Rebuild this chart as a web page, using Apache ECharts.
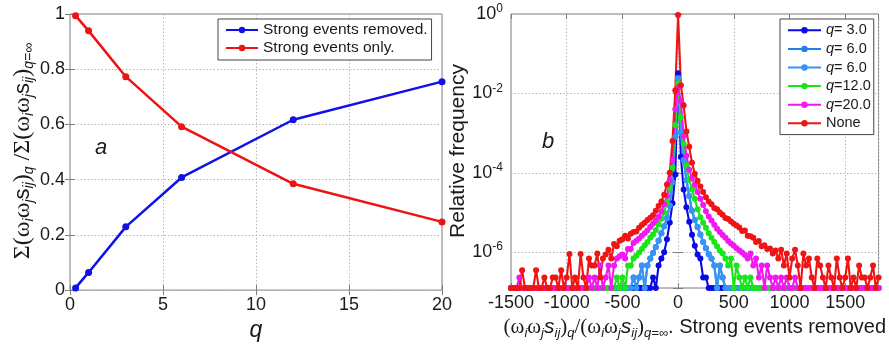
<!DOCTYPE html>
<html><head><meta charset="utf-8">
<script src="https://cdn.jsdelivr.net/npm/echarts@6/dist/echarts.min.js"></script>
<style>html,body{margin:0;padding:0;background:#fff}#c{width:889px;height:347px}</style>
</head><body><div id="c"></div><script>
// ---------- Panel a ----------
const qValues = [0.3, 1, 3, 6, 12, 20];
const removedShare = [0.008, 0.064, 0.229, 0.408, 0.617, 0.755];
const onlyShare = [0.994, 0.939, 0.773, 0.592, 0.385, 0.247];

// ---------- Panel b (relative frequency per bin; 0 = empty bin, drawn on the axis floor) ----------
const bins = [
-1500,-1475,-1450,-1425,-1400,-1375,-1350,-1325,-1300,-1275,
-1250,-1225,-1200,-1175,-1150,-1125,-1100,-1075,-1050,-1025,
-1000,-975,-950,-925,-900,-875,-850,-825,-800,-775,
-750,-725,-700,-675,-650,-625,-600,-575,-550,-525,
-500,-475,-450,-425,-400,-375,-350,-325,-300,-275,
-250,-225,-200,-175,-150,-125,-100,-75,-50,-25,
0,
25,50,75,100,125,150,175,200,225,250,
275,300,325,350,375,400,425,450,475,500,
525,550,575,600,625,650,675,700,725,750,
775,800,825,850,875,900,925,950,975,1000,
1025,1050,1075,1100,1125,1150,1175,1200,1225,1250,
1275,1300,1325,1350,1375,1400,1425,1450,1475,1500,
1525,1550,1575,1600,1625,1650,1675,1700,1725,1750,
1775,1800];

const freqNone = [
0,0,0,0,3.5e-7,0,0,0,0,3.5e-7,
0,0,2.3e-7,0,0,2.3e-7,2.3e-7,0,3.5e-7,0,
2.3e-7,9e-7,0,2.3e-7,0,9e-7,2.3e-7,0,6.9e-7,4.6e-7,
4.6e-7,9.2e-7,2.3e-7,6.9e-7,8.7e-7,1.15e-6,6.9e-7,1.6e-6,1.4e-6,1.95e-6,
2.1e-6,2.6e-6,2.2e-6,2.9e-6,3.2e-6,3.3e-6,4.1e-6,4.8e-6,5.5e-6,6.5e-6,
7.4e-6,8.5e-6,1.1e-5,1.45e-5,1.9e-5,2.8e-5,5.1e-5,1e-4,6.3e-4,1.2e-2,
0.95,
1.6e-2,5e-3,1.1e-3,4.5e-4,1.8e-4,9.5e-5,6.3e-5,4.5e-5,3.3e-5,2.4e-5,
1.9e-5,1.6e-5,1.3e-5,1.2e-5,1e-5,8.7e-6,7.2e-6,6.8e-6,5.9e-6,5.2e-6,
4.7e-6,4.2e-6,3.4e-6,3.5e-6,2.6e-6,2.5e-6,2.3e-6,1.8e-6,1.9e-6,1.4e-6,
1.5e-6,1.2e-6,1.23e-6,9.2e-7,1.1e-6,6.9e-7,1.15e-6,4.6e-7,9.2e-7,2.3e-7,
6.9e-7,1.15e-6,4.6e-7,0,9.2e-7,4.6e-7,6.9e-7,2.3e-7,0,6.9e-7,
4.6e-7,2.3e-7,0,4.6e-7,2.3e-7,0,6.9e-7,2.3e-7,0,2.3e-7,
6.9e-7,0,2.3e-7,0,4.6e-7,2.3e-7,2.3e-7,0,2.3e-7,4.6e-7,
0,2.3e-7];

const freqQ20 = [
0,0,0,2.3e-7,0,0,0,0,0,0,
0,0,0,0,0,0,0,0,0,0,
0,0,0,0,0,0,0,0,2.3e-7,0,
2.3e-7,0,4.6e-7,0,2.3e-7,4.6e-7,0,4.6e-7,6.9e-7,7.9e-7,
8.7e-7,6.9e-7,1.2e-6,1.2e-6,1.7e-6,1.95e-6,2.2e-6,2.6e-6,3e-6,3.5e-6,
4.3e-6,5.2e-6,6.3e-6,7.8e-6,1.05e-5,1.6e-5,2.6e-5,6.5e-5,2.1e-4,4e-3,
1.4e-2,
6.3e-3,8.5e-4,2.7e-4,1.2e-4,7.4e-5,5e-5,3.3e-5,2.2e-5,1.55e-5,1.07e-5,
7.9e-6,6.3e-6,4.9e-6,3.9e-6,3.2e-6,2.7e-6,2.3e-6,1.9e-6,1.66e-6,1.45e-6,
1.26e-6,1.1e-6,9.8e-7,8.5e-7,6.9e-7,9.2e-7,4.6e-7,6.9e-7,2.3e-7,4.6e-7,
0,4.6e-7,2.3e-7,0,2.3e-7,0,2.3e-7,0,2.3e-7,0,
0,2.3e-7,0,0,0,0,0,0,0,0,
0,0,0,0,0,0,0,0,0,0,
0,0,0,0,0,0,0,0,0,0,
0,0];

const freqQ12 = [
0,0,0,0,0,0,0,0,0,0,
0,0,0,0,0,0,0,0,0,0,
0,0,0,0,0,0,0,0,0,0,
0,0,0,0,0,0,0,0,2.3e-7,0,
2.3e-7,0,4.6e-7,4.6e-7,6.9e-7,8.1e-7,9.8e-7,1.2e-6,1.5e-6,1.8e-6,
2.3e-6,2.8e-6,3.6e-6,5e-6,6.9e-6,1e-5,1.8e-5,4.2e-5,1.35e-4,1.6e-3,
1.8e-2,
2.5e-3,5.4e-4,1.5e-4,6.6e-5,3.8e-5,2.2e-5,1.2e-5,7.6e-6,5.5e-6,4.1e-6,
3e-6,2.3e-6,1.8e-6,1.4e-6,1.1e-6,9.3e-7,6.9e-7,4.6e-7,6.9e-7,0,
4.6e-7,2.3e-7,0,2.3e-7,0,2.3e-7,0,0,0,0,
0,0,0,0,0,0,0,0,0,0,
0,0,0,0,0,0,0,0,0,0,
0,0,0,0,0,0,0,0,0,0,
0,0,0,0,0,0,0,0,0,0,
0,0];

const freqQ6 = [
0,0,0,0,0,0,0,0,0,0,
0,0,0,0,0,0,0,0,0,0,
0,0,0,0,0,0,0,0,0,0,
0,0,0,0,0,0,0,0,0,0,
0,0,0,0,2.3e-7,0,2.3e-7,4.6e-7,0,4.6e-7,
6.9e-7,9.5e-7,1.35e-6,1.95e-6,3e-6,4.5e-6,7.1e-6,1.5e-5,5.8e-5,8e-4,
2.4e-2,
1e-3,2.1e-4,6.5e-5,2.6e-5,1.1e-5,6.5e-6,4.3e-6,2.8e-6,1.8e-6,1.26e-6,
8.9e-7,6.9e-7,4.6e-7,0,4.6e-7,2.3e-7,0,0,0,0,
0,0,0,0,0,0,0,0,0,0,
0,0,0,0,0,0,0,0,0,0,
0,0,0,0,0,0,0,0,0,0,
0,0,0,0,0,0,0,0,0,0,
0,0,0,0,0,0,0,0,0,0,
0,0];

const freqQ3 = [
0,0,0,0,0,0,0,0,0,0,
0,0,0,0,0,0,0,0,0,0,
0,0,0,0,0,0,0,0,0,0,
0,0,0,0,0,0,0,0,0,0,
0,0,0,0,0,0,0,0,0,0,
0,2.3e-7,0,4.6e-7,6.9e-7,1e-6,2.1e-6,5.6e-6,1.7e-5,9e-5,
3.2e-2,
2.5e-4,3.8e-5,1.35e-5,5.8e-6,2.75e-6,1.45e-6,8.7e-7,6.9e-7,2.3e-7,2.3e-7,
0,0,0,0,0,0,0,0,0,0,
0,0,0,0,0,0,0,0,0,0,
0,0,0,0,0,0,0,0,0,0,
0,0,0,0,0,0,0,0,0,0,
0,0,0,0,0,0,0,0,0,0,
0,0,0,0,0,0,0,0,0,0,
0,0];

const seriesNamesB = ['q3', 'q6a', 'q6b', 'q12', 'q20', 'none'];
const legendLabelsB = ['{i|q}= 3.0', '{i|q}= 6.0', '{i|q}= 6.0', '{i|q}=12.0', '{i|q}=20.0', 'None'];
const seriesDataB = [freqQ3, freqQ6, freqQ6, freqQ12, freqQ20, freqNone];
const seriesColorsB = ['#0a0ae6', '#1f80ea', '#3794f5', '#19e619', '#f019f0', '#f01414'];

const yFloor = 1.25e-7;
const xTicksB = [-1500, 1800];

// ---------- Chart ----------
const FS = 'Liberation Sans';
const TXT = '#1a1a1a';
const AX = '#7d7d7d';
const split = {show: true, lineStyle: {color: '#b8b8b8', width: 1, type: [1.5, 2]}};
const tick = {show: true, inside: true, length: 5, lineStyle: {color: AX}};
const lbl = {fontSize: 18, fontFamily: FS, color: TXT};

const subStyle = {fontSize: 13, fontStyle: 'italic', fontFamily: FS, color: TXT, verticalAlign: 'bottom', lineHeight: 11};

const chart = echarts.init(document.getElementById('c'));
const option = {
  animation: false,
  backgroundColor: '#fff',
  grid: [
    {left: 70, top: 14, width: 372, height: 277, show: true, borderColor: AX, borderWidth: 1},
    {left: 511, top: 14, width: 376, height: 274, show: true, borderColor: AX, borderWidth: 1}
  ],
  xAxis: [
    {gridIndex: 0, type: 'value', min: 0, max: 20, interval: 5,
     axisLine: {show: false}, axisTick: tick, splitLine: split,
     axisLabel: Object.assign({margin: 6}, lbl),
     name: 'q', nameLocation: 'middle', nameGap: 23,
     nameTextStyle: {fontStyle: 'italic', fontSize: 23, fontFamily: FS, color: TXT}},
    {gridIndex: 1, type: 'value', min: xTicksB[0], max: xTicksB[1], interval: 500,
     axisLine: {show: false}, axisTick: tick, splitLine: split,
     axisLabel: Object.assign({margin: 6, showMaxLabel: false, formatter: v => String(v)}, lbl),
     name: '{g|(ω}{sub|i}{g|ω}{sub|j}{si|s}{sub|ij}{g|)}{sub|q}{g|/(ω}{sub|i}{g|ω}{sub|j}{si|s}{sub|ij}{g|)}{sub|q=∞}{t|. Strong events removed}',
     nameLocation: 'middle', nameGap: 27,
     nameTextStyle: {rich: {
       g: {fontFamily: 'Liberation Serif', fontSize: 21, color: TXT, lineHeight: 24},
       si: {fontFamily: FS, fontStyle: 'italic', fontSize: 21, color: TXT, lineHeight: 24},
       t: {fontFamily: FS, fontSize: 20, color: TXT, lineHeight: 24},
       sub: subStyle}}},
    {gridIndex: 0, type: 'value', position: 'top', min: 0, max: 20, interval: 5,
     axisLine: {show: false}, axisTick: tick, axisLabel: {show: false}, splitLine: {show: false}},
    {gridIndex: 1, type: 'value', position: 'top', min: xTicksB[0], max: xTicksB[1], interval: 500,
     axisLine: {show: false}, axisTick: tick, axisLabel: {show: false}, splitLine: {show: false}}
  ],
  yAxis: [
    {gridIndex: 0, type: 'value', min: 0, max: 1, interval: 0.2,
     axisLine: {show: false}, axisTick: tick, splitLine: split,
     axisLabel: Object.assign({margin: 5}, lbl),
     name: '{g|Σ(ω}{sub|i}{g|ω}{sub|j}{s|s}{sub|ij}{g|)}{sub|q}{g| /Σ(ω}{sub|i}{g|ω}{sub|j}{s|s}{sub|ij}{g|)}{sub|q=∞}',
     nameLocation: 'middle', nameRotate: 90, nameGap: 31,
     nameTextStyle: {padding: [0, 0, 0, 2], rich: {
       g: {fontFamily: 'Liberation Serif', fontSize: 24, color: TXT, lineHeight: 27},
       s: {fontFamily: FS, fontSize: 22, color: TXT, lineHeight: 27},
       sub: {fontSize: 14, fontStyle: 'italic', fontFamily: FS, color: TXT, verticalAlign: 'bottom', lineHeight: 11}}}},
    {gridIndex: 1, type: 'log', logBase: 100, min: yFloor, max: 1,
     axisLine: {show: false}, axisTick: tick, splitLine: split,
     axisLabel: {margin: 8, formatter: v => {
        const e = Math.log10(v); const r = Math.round(e);
        if (Math.abs(e - r) > 0.01) return '';
        return '{b|10}{e|' + r + '}';
      }, rich: {
        b: {fontSize: 18, fontFamily: FS, color: TXT, lineHeight: 22},
        e: {fontSize: 12, fontFamily: FS, color: TXT, verticalAlign: 'top', lineHeight: 12}
      }},
     name: 'Relative frequency', nameLocation: 'middle', nameRotate: 90, nameGap: 34,
     nameTextStyle: {fontSize: 21, fontFamily: FS, color: TXT}},
    {gridIndex: 0, type: 'value', position: 'right', min: 0, max: 1, interval: 0.2,
     axisLine: {show: false}, axisTick: tick, axisLabel: {show: false}, splitLine: {show: false}},
    {gridIndex: 1, type: 'log', logBase: 100, position: 'right', min: yFloor, max: 1,
     axisLine: {show: false}, axisTick: tick, axisLabel: {show: false}, splitLine: {show: false}}
  ],
  legend: [
    {left: 218, top: 19, orient: 'vertical', data: ['Strong events removed.', 'Strong events only.'],
     backgroundColor: '#fff', borderColor: '#444', borderWidth: 1, borderRadius: 0,
     padding: [2, 4, 3, 7], itemWidth: 32, itemHeight: 8, itemGap: 0, selectedMode: false,
     textStyle: {fontSize: 15.5, fontFamily: FS, color: TXT, lineHeight: 18}},
    {left: 780, top: 19, orient: 'vertical', data: seriesNamesB,
     backgroundColor: '#fff', borderColor: '#444', borderWidth: 1, borderRadius: 0,
     padding: [2, 3, 2, 7], itemWidth: 33, itemHeight: 8, itemGap: 0, selectedMode: false,
     formatter: n => legendLabelsB[seriesNamesB.indexOf(n)],
     textStyle: {fontSize: 14.5, fontFamily: FS, color: TXT, lineHeight: 18.6,
       rich: {i: {fontSize: 14.5, fontFamily: FS, fontStyle: 'italic', color: TXT, lineHeight: 18.6}}}}
  ],
  graphic: [
    {type: 'text', left: 95, top: 137, style: {text: 'a', font: 'italic 22px "Liberation Sans"', fill: TXT}},
    {type: 'text', left: 542, top: 131, style: {text: 'b', font: 'italic 22px "Liberation Sans"', fill: TXT}}
  ],
  series: []
};

option.series.push({
  type: 'line', name: 'Strong events removed.', xAxisIndex: 0, yAxisIndex: 0,
  data: qValues.map((q, i) => [q, removedShare[i]]),
  symbol: 'circle', symbolSize: 7, lineStyle: {width: 2.5, color: '#1010e8'}, itemStyle: {color: '#1010e8'}
});
option.series.push({
  type: 'line', name: 'Strong events only.', xAxisIndex: 0, yAxisIndex: 0,
  data: qValues.map((q, i) => [q, onlyShare[i]]),
  symbol: 'circle', symbolSize: 7, lineStyle: {width: 2.5, color: '#ee1212'}, itemStyle: {color: '#ee1212'}
});
seriesNamesB.forEach((name, k) => {
  const vals = seriesDataB[k];
  option.series.push({
    type: 'line', name: name, xAxisIndex: 1, yAxisIndex: 1,
    data: bins.map((x, i) => [x, vals[i] > 0 ? vals[i] : yFloor]),
    symbol: 'circle', symbolSize: 6, showAllSymbol: true, clip: true,
    lineStyle: {width: 2.1, color: seriesColorsB[k]}, itemStyle: {color: seriesColorsB[k]}
  });
});

chart.setOption(option);
</script></body></html>
